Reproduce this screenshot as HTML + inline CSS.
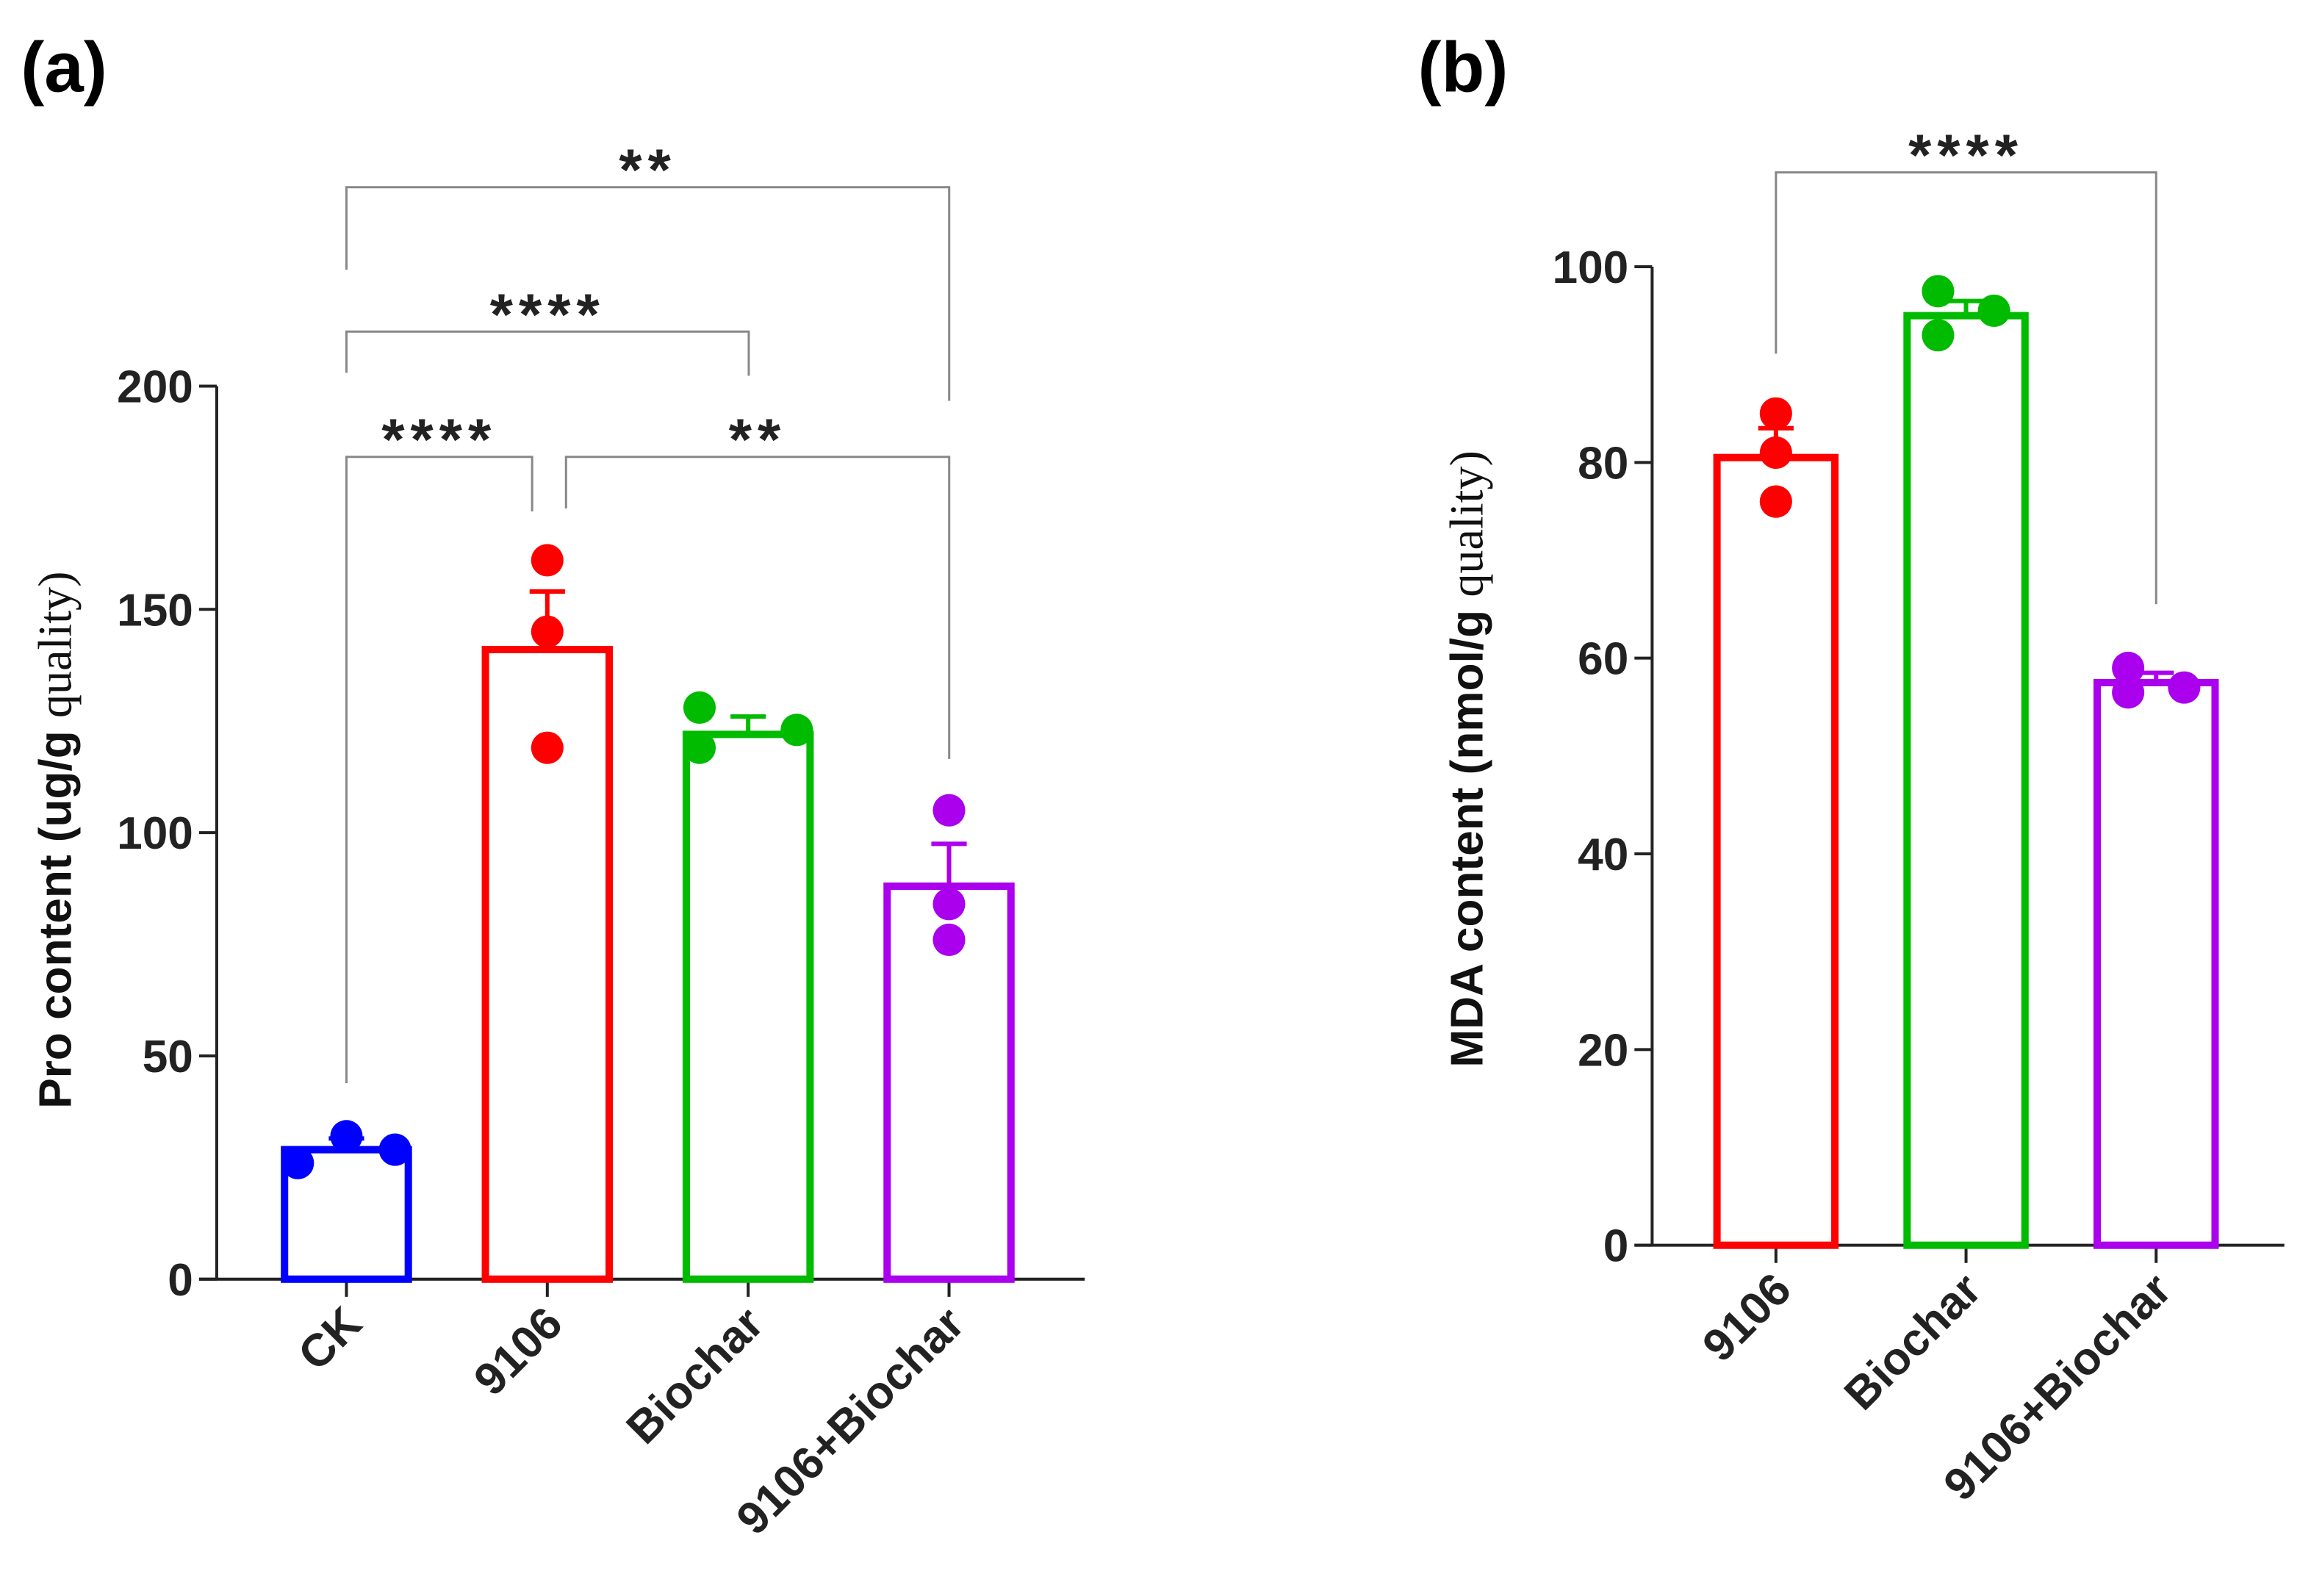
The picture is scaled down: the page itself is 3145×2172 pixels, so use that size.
<!DOCTYPE html>
<html><head><meta charset="utf-8"><style>
html,body{margin:0;padding:0;background:#fff}
svg{display:block}
text{font-family:"Liberation Sans",Arial,sans-serif}
</style></head><body>
<svg id="fig" width="3145" height="2172" viewBox="0 0 1568 1083" xmlns="http://www.w3.org/2000/svg">
<text x="14" y="62" font-size="48" font-weight="bold">(a)</text>
<text x="962" y="62" font-size="48" font-weight="bold">(b)</text>
<g id="pa"></g>
<g id="pb"></g>
</svg>
<script>
// Panel A data
const catsA = ["CK","9106","Biochar","9106+Biochar"];
const meansA = [29,141,122,88];
const errA = [2.5,13,4,9.5];
const ptsA = [[26,32,29],[161,145,119],[128,119,123],[105,84,76]];
const jitA = [[-1,0,1],[0,0,0],[-1,-1,1],[0,0,0]];
const ticksA = [0,50,100,150,200];
// Panel B data
const catsB = ["9106","Biochar","9106+Biochar"];
const meansB = [80.5,95,57.5];
const errB = [3,1.5,1];
const ptsB = [[85,81,76],[97.5,93,95.5],[59,56.5,57]];
const jitB = [[0,0,0],[-1,-1,1],[-1,-1,1]];
const ticksB = [0,20,40,60,80,100];
const colorsA = ["#0000ff","#ff0000","#00bb00","#aa00ee"];
const colorsB = ["#ff0000","#00bb00","#aa00ee"];
const NS="http://www.w3.org/2000/svg";
function mk(parent,tag,attrs){const e=document.createElementNS(NS,tag);for(const k in attrs)e.setAttribute(k,attrs[k]);parent.appendChild(e);return e;}

function panel(g,cfg){
  const y=v=>cfg.y0-(v-cfg.ymin)/(cfg.ymax-cfg.ymin)*(cfg.y0-cfg.ytop);
  const x=i=>cfg.x0+i*cfg.step;
  let a=mk(g,'line',{x1:cfg.ax,y1:y(cfg.ymax),x2:cfg.ax,y2:cfg.y0,stroke:'#222','stroke-width':2});
  
  
  a=mk(g,'line',{x1:cfg.ax-12,y1:cfg.y0,x2:cfg.axEnd,y2:cfg.y0,stroke:'#222','stroke-width':2});
  
  
  cfg.ticks.forEach(t=>{
    const l=mk(g,'line',{x1:cfg.ax-12,y1:y(t),x2:cfg.ax,y2:y(t),stroke:'#222','stroke-width':2});
    
    
    const tx=mk(g,'text',{x:cfg.ax-16,y:y(t)+11,'text-anchor':'end','font-size':31,'font-weight':'bold',fill:'#222'});
    tx.textContent=t;
    
    
  });
  cfg.cats.forEach((c,i)=>{
    const cx=x(i),col=cfg.colors[i],w=cfg.bw;
    const tk=mk(g,'line',{x1:cx,y1:cfg.y0,x2:cx,y2:cfg.y0+12,stroke:'#222','stroke-width':2});
    
    
    const b=mk(g,'rect',{x:cx-w/2,y:y(cfg.means[i]),width:w,height:cfg.y0-y(cfg.means[i]),fill:'none',stroke:col,'stroke-width':5});
    
    
    const e=mk(g,'path',{d:`M${cx},${y(cfg.means[i])} V${y(cfg.means[i]+cfg.err[i])} M${cx-12},${y(cfg.means[i]+cfg.err[i])} H${cx+12}`,stroke:col,'stroke-width':3,fill:'none'});
    
    
    cfg.pts[i].forEach((p,j)=>{
      const d=mk(g,'circle',{cx:cx+cfg.jit[i][j]*cfg.jw,cy:y(p),r:11,fill:col});
      
      
    });
    const lb=mk(g,'text',{transform:`translate(${cx+12},${cfg.y0+32}) rotate(-45)`,'text-anchor':'end','font-size':31,'font-weight':'bold',fill:'#222'});
    lb.textContent=c;
    
    
  });
  const tt=mk(g,'text',{transform:`translate(${cfg.titleX},${cfg.titleY}) rotate(-90)`,'text-anchor':'middle','font-size':31,'font-weight':'bold',fill:'#111'});
  tt.innerHTML=cfg.title+' <tspan font-family="Liberation Serif,serif" font-weight="normal" font-size="32">quality)</tspan>';
  
  
  cfg.brackets.forEach(br=>{
    const p=mk(g,'path',{d:`M${br[0]},${br[3]} V${br[2]} H${br[1]} V${br[4]}`,stroke:'#888','stroke-width':1.5,fill:'none'});
    
    
    const s=mk(g,'text',{x:(br[0]+br[1])/2,y:br[2]+2,'text-anchor':'middle','font-size':40,'font-weight':'bold',fill:'#222','letter-spacing':4});
    s.textContent=br[5];
    
    
  });
}
panel(document.getElementById('pa'),{ax:147,axEnd:736,y0:868,ytop:262,ymin:0,ymax:200,x0:235,step:136.3,bw:84,
  cats:catsA,means:meansA,err:errA,pts:ptsA,jit:jitA,jw:33,ticks:ticksA,colors:colorsA,
  title:'Pro content (ug/g',titleX:48,titleY:570,
  brackets:[[235,644,127,183,272,'**'],[235,508,225,253,255,'****'],[235,361,310,735,347,'****'],[384,644,310,345,515,'**']]});
panel(document.getElementById('pb'),{ax:1121,axEnd:1550,y0:845,ytop:181,ymin:0,ymax:100,x0:1205,step:129,bw:80,
  cats:catsB,means:meansB,err:errB,pts:ptsB,jit:jitB,jw:19,ticks:ticksB,colors:colorsB,
  title:'MDA content (nmol/g',titleX:1006,titleY:515,
  brackets:[[1205,1463,117,240,410,'****']]});
</script>
</body></html>
